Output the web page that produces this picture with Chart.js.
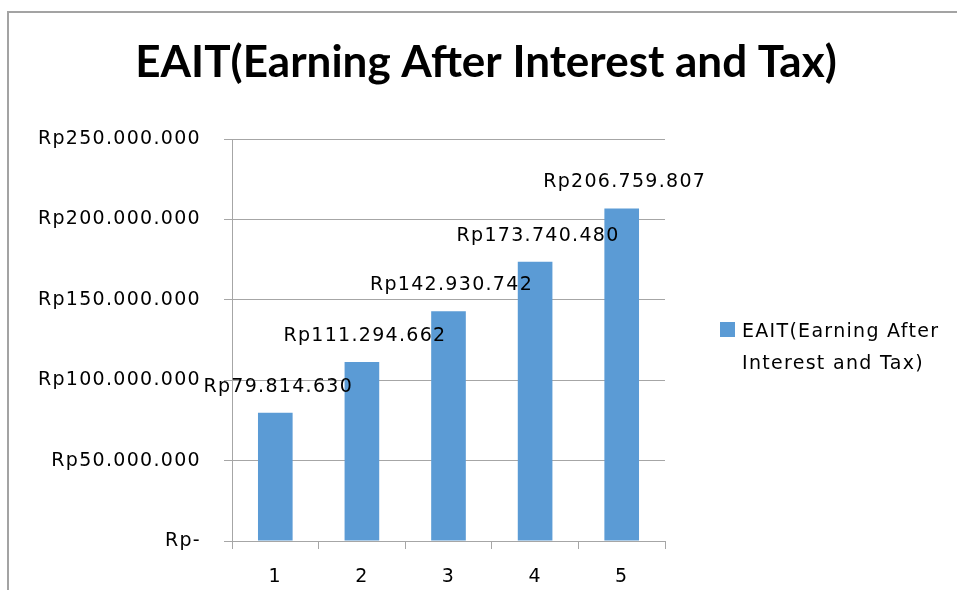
<!DOCTYPE html>
<html>
<head>
    <meta charset="UTF-8">
    <title>EAIT</title>
    <style>
        body {
            margin: 0;
            padding: 0;
            background: #fff;
        }
        .wrap {
            position: relative;
            width: 957px;
            height: 590px;
            overflow: hidden;
        }
        .frame {
            position: absolute;
            left: 7px;
            top: 11px;
            width: 1000px;
            height: 700px;
            border-left: 2px solid #a3a3a3;
            border-top: 2px solid #a3a3a3;
        }
        canvas {
            position: absolute;
            left: 0;
            top: 0;
        }
    </style>
</head>
<body>
<div class="wrap">
    <div class="frame"></div>
    <canvas id="eaitChart" width="957" height="590"></canvas>
</div>
<script src="https://cdn.jsdelivr.net/npm/chart.js"></script>
<script>
    const chartTitle = 'EAIT(Earning After Interest and Tax)';
    const seriesName = 'EAIT(Earning After Interest and Tax)';
    const legendLines = ['EAIT(Earning After', 'Interest and Tax)'];
    const years = ['1', '2', '3', '4', '5'];
    const eaitValues = [79814630, 111294662, 142930742, 173740480, 206759807];
    const yTickValues = [0, 50000000, 100000000, 150000000, 200000000, 250000000];
    const yTickLabels = ['Rp-', 'Rp50.000.000', 'Rp100.000.000', 'Rp150.000.000', 'Rp200.000.000', 'Rp250.000.000'];

    const FONT = '"DejaVu Sans", "Noto Sans", sans-serif';
    const TITLE_FONT = 'Lato, "Noto Sans", sans-serif';
    const FONT_SIZE = 19;
    const SPACING = '1.3px';   // the original text is set quite wide
    const barColor = '#5b9bd5';
    const gridColor = '#a6a6a6';

    function rupiah(v) {
        return 'Rp' + String(v).replace(/\B(?=(\d{3})+(?!\d))/g, '.');
    }

    const wideText = {
        id: 'wideText',
        beforeDraw(chart) {
            chart.ctx.letterSpacing = SPACING;
        }
    };

    // title centred over the whole frame, not just the plot
    const frameTitle = {
        id: 'frameTitle',
        afterDraw(chart) {
            const ctx = chart.ctx;
            ctx.save();
            ctx.letterSpacing = '0px';
            ctx.font = 'bold 44px ' + TITLE_FONT;
            ctx.fillStyle = '#000';
            ctx.textAlign = 'center';
            ctx.textBaseline = 'middle';
            ctx.fillText(chartTitle, 486, 63);
            ctx.restore();
        }
    };

    // value labels above each bar
    const valueLabels = {
        id: 'valueLabels',
        afterDatasetsDraw(chart) {
            const ctx = chart.ctx;
            const meta = chart.getDatasetMeta(0);
            ctx.save();
            ctx.letterSpacing = SPACING;
            ctx.font = FONT_SIZE + 'px ' + FONT;
            ctx.fillStyle = '#000';
            ctx.textAlign = 'center';
            ctx.textBaseline = 'middle';
            meta.data.forEach((bar, i) => {
                ctx.fillText(rupiah(eaitValues[i]), bar.x + 3, bar.y - 26);
            });
            ctx.restore();
        }
    };

    // two-line legend on the right, like the original
    const sideLegend = {
        id: 'sideLegend',
        afterDraw(chart) {
            const ctx = chart.ctx;
            ctx.save();
            ctx.letterSpacing = SPACING;
            ctx.fillStyle = chart.data.datasets[0].backgroundColor;
            ctx.fillRect(720, 322, 15, 15);
            ctx.font = FONT_SIZE + 'px ' + FONT;
            ctx.fillStyle = '#000';
            ctx.textAlign = 'left';
            ctx.textBaseline = 'alphabetic';
            legendLines.forEach((line, i) => {
                ctx.fillText(line, 742, 337 + i * 32);
            });
            ctx.restore();
        }
    };

    const ctx = document.getElementById('eaitChart').getContext('2d');
    new Chart(ctx, {
        type: 'bar',
        data: {
            labels: years,
            datasets: [{
                label: seriesName,
                data: eaitValues,
                backgroundColor: barColor,
                borderWidth: 0,
                categoryPercentage: 1,
                barPercentage: 0.4
            }]
        },
        options: {
            responsive: false,
            animation: false,
            layout: {
                padding: { top: 139, left: 0, right: 292, bottom: 0 }
            },
            plugins: {
                legend: { display: false },
                tooltip: { enabled: false },
                title: { display: false }
            },
            scales: {
                x: {
                    grid: {
                        display: true,
                        drawOnChartArea: false,
                        drawTicks: true,
                        tickLength: 8,
                        color: gridColor,
                        lineWidth: 1
                    },
                    border: { display: true, color: gridColor, width: 1 },
                    ticks: {
                        color: '#000',
                        padding: 17,
                        font: { family: FONT, size: FONT_SIZE }
                    },
                    afterFit(scale) { scale.height = 49; }
                },
                y: {
                    min: 0,
                    max: 250000000,
                    afterBuildTicks(scale) {
                        scale.ticks = yTickValues.map(v => ({ value: v }));
                    },
                    grid: {
                        color: gridColor,
                        lineWidth: 1,
                        tickLength: 8
                    },
                    border: { display: true, color: gridColor, width: 1 },
                    ticks: {
                        color: '#000',
                        padding: 23,
                        font: { family: FONT, size: FONT_SIZE },
                        callback: (v, i) => yTickLabels[yTickValues.indexOf(v)]
                    },
                    afterFit(scale) { scale.width = 232; }
                }
            }
        },
        plugins: [wideText, frameTitle, valueLabels, sideLegend]
    });
</script>
</body>
</html>
